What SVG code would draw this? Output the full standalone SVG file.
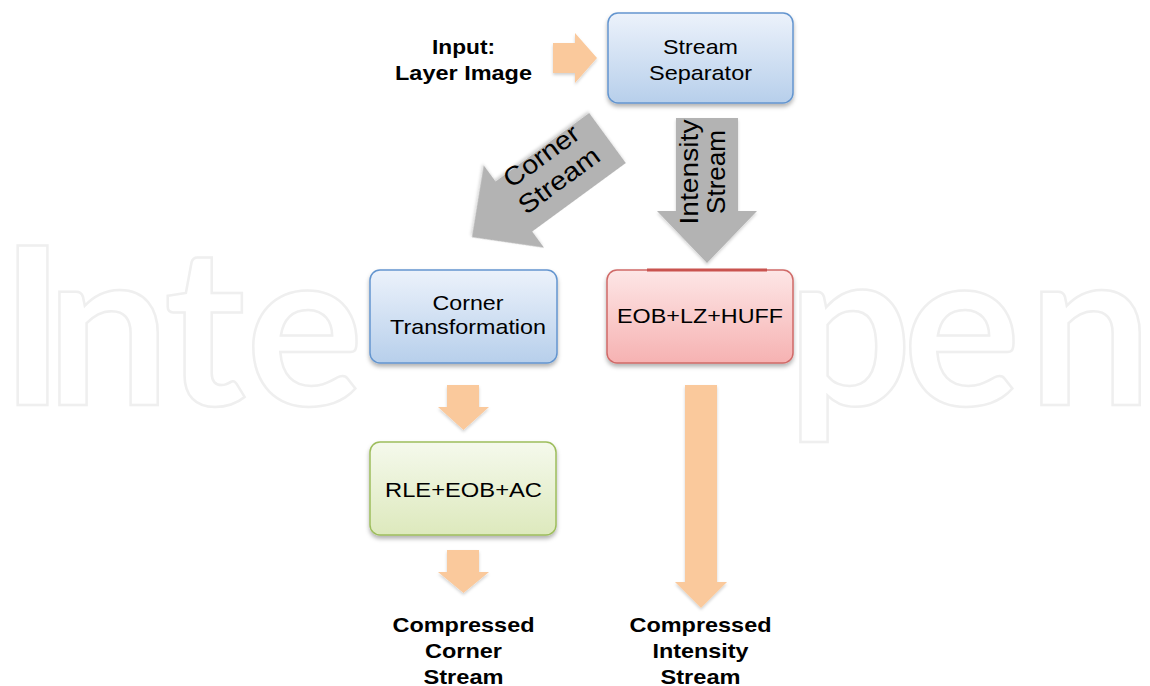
<svg xmlns="http://www.w3.org/2000/svg" width="1150" height="686" viewBox="0 0 1150 686">
<defs>
<style>
.t{font-family:"Liberation Sans",Arial,sans-serif;font-size:21px;fill:#000;text-anchor:middle}
.b{font-weight:bold}
.r{font-size:26px}
.wm{font-family:Lato,"Liberation Sans",sans-serif;font-weight:700;font-size:220px;fill:none;stroke:#efefef;stroke-width:2.5}
.peach{fill:#fac99c}
.gray{fill:#b3b3b3}
</style>
<linearGradient id="gBlue" x1="0" y1="0" x2="0" y2="1"><stop offset="0" stop-color="#ecf2fb"/><stop offset="1" stop-color="#b7cfeb"/></linearGradient>
<linearGradient id="gRed" x1="0" y1="0" x2="0" y2="1"><stop offset="0" stop-color="#fde6e6"/><stop offset="1" stop-color="#f6b2b2"/></linearGradient>
<linearGradient id="gGreen" x1="0" y1="0" x2="0" y2="1"><stop offset="0" stop-color="#f5f9ec"/><stop offset="1" stop-color="#dde9bd"/></linearGradient>
<filter id="sh" x="-20%" y="-20%" width="140%" height="150%"><feDropShadow dx="0" dy="3" stdDeviation="2" flood-color="#000" flood-opacity="0.3"/></filter>
<filter id="sh2" x="-20%" y="-20%" width="140%" height="150%"><feDropShadow dx="0" dy="2" stdDeviation="1.5" flood-color="#000" flood-opacity="0.18"/></filter>
</defs>
<rect width="1150" height="686" fill="#fff"/>
<g id="watermark">
<text class="wm" x="0 46 164 246" y="405">Inte</text>
<text class="wm" x="787 903 1028" y="405">pen</text>
<rect x="363" y="230" width="434" height="240" fill="#fff"/>
</g>
<g id="connectors">
<polygon class="peach" filter="url(#sh2)" points="553,43 575,43 575,33 597,58 575,83 575,73 553,73"/>
<g id="corner-stream-arrow">
<polygon class="gray" filter="url(#sh2)" transform="translate(607.5,138) rotate(143.8)" points="0,-31 116,-31 116,-51 168,0 116,51 116,31 0,31"/>
<g transform="translate(550,168) rotate(-36.2)">
<text class="t r" x="0" y="-6" textLength="87" lengthAdjust="spacingAndGlyphs">Corner</text>
<text class="t r" x="0" y="24" textLength="94" lengthAdjust="spacingAndGlyphs">Stream</text>
</g>
</g>
<g id="intensity-stream-arrow">
<polygon class="gray" filter="url(#sh2)" points="676,118 738,118 738,211 757,211 707,263 657,211 676,211"/>
<g transform="translate(701,172) rotate(-90)">
<text class="t r" x="0" y="-3" textLength="105" lengthAdjust="spacingAndGlyphs">Intensity</text>
<text class="t r" x="0" y="24" textLength="84" lengthAdjust="spacingAndGlyphs">Stream</text>
</g>
</g>
<polygon class="peach" filter="url(#sh2)" points="447,385 479,385 479,407 489,407 463.5,430 438,407 447,407"/>
<polygon class="peach" filter="url(#sh2)" points="447,550 479,550 479,572 489,572 463.5,593 438,572 447,572"/>
<polygon class="peach" filter="url(#sh2)" points="685,385 717,385 717,582 727,582 701,608 675,582 685,582"/>
</g>
<g id="input-label">
<text class="t b" x="463.5" y="54" textLength="63" lengthAdjust="spacingAndGlyphs">Input:</text>
<text class="t b" x="463.5" y="80" textLength="137" lengthAdjust="spacingAndGlyphs">Layer Image</text>
</g>
<g id="stream-separator">
<rect x="608" y="13" width="185" height="90" rx="10" fill="url(#gBlue)" stroke="#6495cf" stroke-width="1.5" filter="url(#sh)"/>
<text class="t" x="700.5" y="54" textLength="75" lengthAdjust="spacingAndGlyphs">Stream</text>
<text class="t" x="700.5" y="80" textLength="103" lengthAdjust="spacingAndGlyphs">Separator</text>
</g>
<g id="corner-transformation">
<rect x="370" y="270" width="187" height="93" rx="10" fill="url(#gBlue)" stroke="#6495cf" stroke-width="1.5" filter="url(#sh)"/>
<text class="t" x="468" y="310" textLength="71" lengthAdjust="spacingAndGlyphs">Corner</text>
<text class="t" x="468" y="334" textLength="156" lengthAdjust="spacingAndGlyphs">Transformation</text>
</g>
<g id="eob-lz-huff">
<rect x="607" y="270" width="186" height="93" rx="10" fill="url(#gRed)" stroke="#d06a67" stroke-width="1.5" filter="url(#sh)"/>
<line x1="647" y1="270" x2="767" y2="270" stroke="#c9534f" stroke-width="3"/>
<text class="t" x="700" y="323" textLength="166" lengthAdjust="spacingAndGlyphs">EOB+LZ+HUFF</text>
</g>
<g id="rle-eob-ac">
<rect x="370" y="442" width="186" height="93" rx="10" fill="url(#gGreen)" stroke="#9dbd5c" stroke-width="1.5" filter="url(#sh)"/>
<text class="t" x="463.5" y="497" textLength="157" lengthAdjust="spacingAndGlyphs">RLE+EOB+AC</text>
</g>
<g id="out-corner">
<text class="t b" x="463.5" y="632" textLength="142" lengthAdjust="spacingAndGlyphs">Compressed</text>
<text class="t b" x="463.5" y="658" textLength="77" lengthAdjust="spacingAndGlyphs">Corner</text>
<text class="t b" x="463.5" y="684" textLength="80" lengthAdjust="spacingAndGlyphs">Stream</text>
</g>
<g id="out-intensity">
<text class="t b" x="700.5" y="632" textLength="142" lengthAdjust="spacingAndGlyphs">Compressed</text>
<text class="t b" x="700.5" y="658" textLength="96" lengthAdjust="spacingAndGlyphs">Intensity</text>
<text class="t b" x="700.5" y="684" textLength="80" lengthAdjust="spacingAndGlyphs">Stream</text>
</g>
</svg>
